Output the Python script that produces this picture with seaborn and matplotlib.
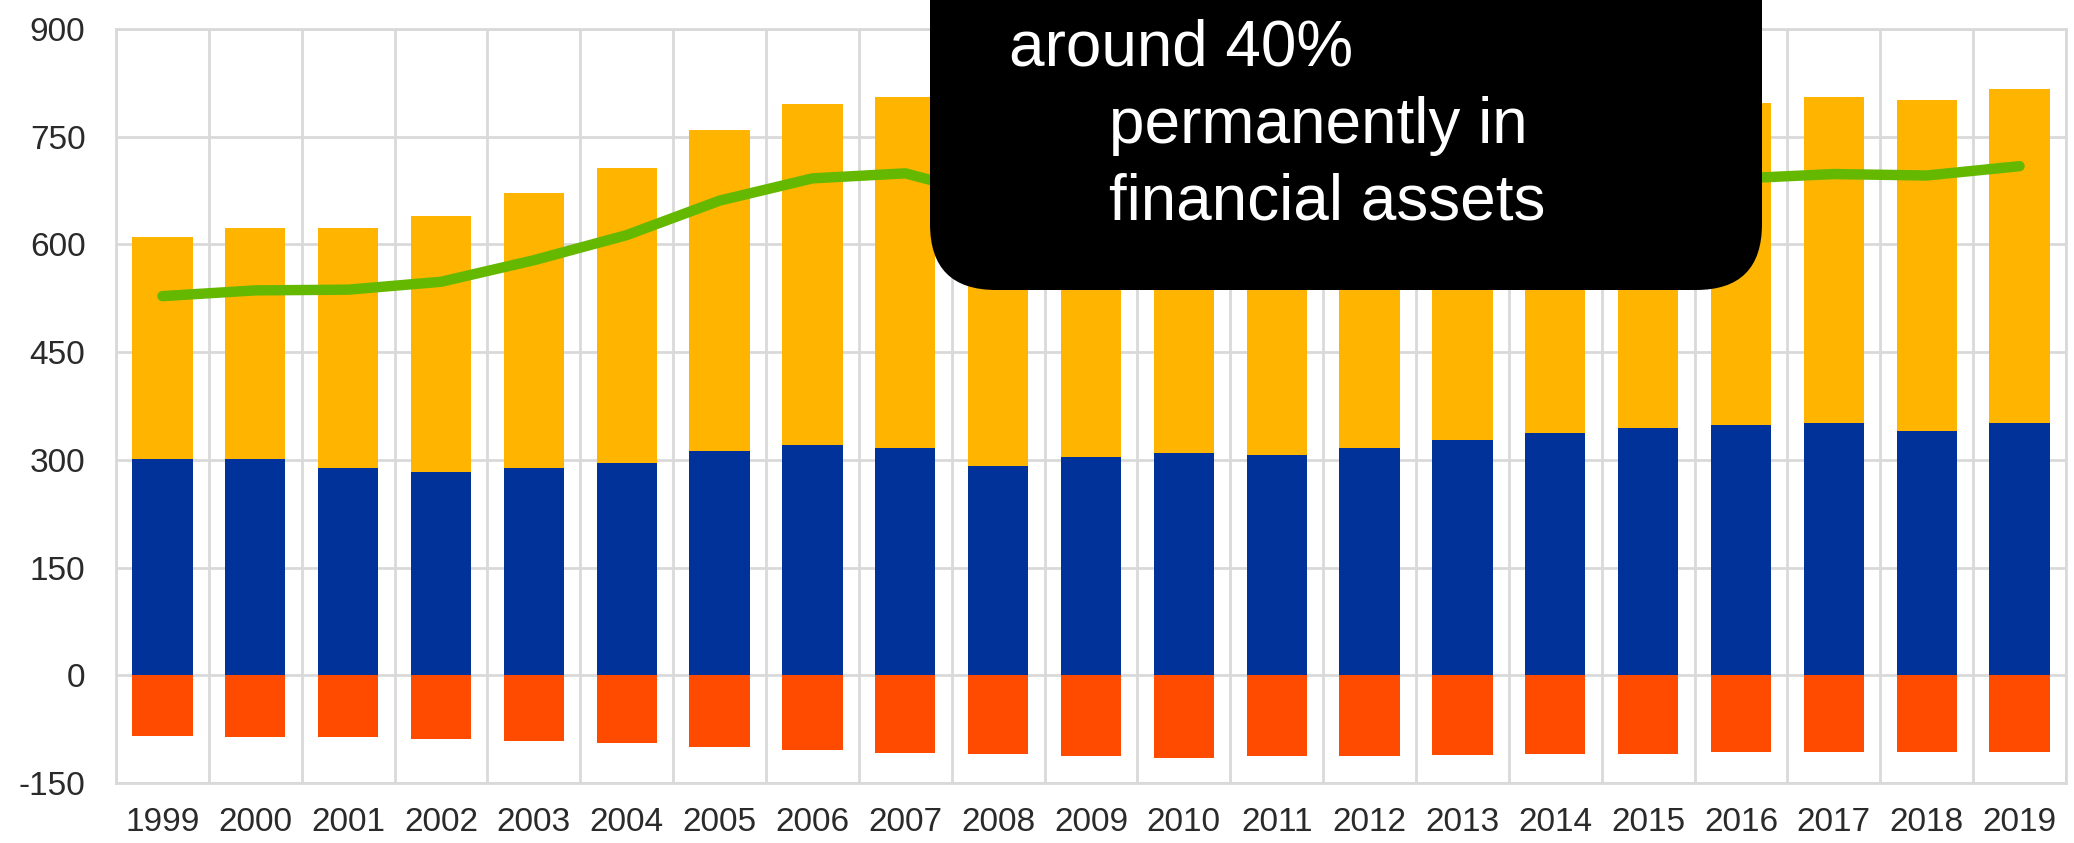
import numpy as np
import pandas as pd
import matplotlib
matplotlib.use("Agg")
import matplotlib.pyplot as plt
from matplotlib.patches import FancyBboxPatch
import seaborn as sns

# Annual series (EUR bn)
years = [str(y) for y in range(1999, 2020)]
blue_part = [301, 301, 289, 283, 288, 295, 313, 321, 316, 292, 304,
             310, 307, 316, 328, 338, 345, 349, 352, 340, 352]
yellow_part = [310, 322, 334, 356, 383, 411, 446, 474, 490, 498, 471,
               470, 468, 454, 447, 442, 440, 448, 454, 461, 464]
orange_part = [-84, -86, -86, -89, -92, -94, -100, -104, -108, -109, -112,
               -115, -112, -112, -111, -110, -110, -107, -107, -107, -107]
green_line = [528, 536, 537, 548, 578, 613, 661, 692, 699, 665, 660,
              668, 670, 672, 676, 680, 686, 692, 698, 696, 709]
y_ticks = [-150, 0, 150, 300, 450, 600, 750, 900]
box_lines = ["around 40%", "permanently in", "financial assets"]

BLUE = "#003299"
YELLOW = "#FFB400"
ORANGE = "#FF4B00"
GREEN = "#65B800"
GRID = "#d9d9d9"

df = pd.DataFrame({
    "year": years,
    "blue": blue_part,
    "yellow": yellow_part,
    "orange": orange_part,
    "line": green_line,
})
df["total"] = df["blue"] + df["yellow"]

sns.set_style("white")
plt.rcParams["font.family"] = ["Liberation Sans", "DejaVu Sans"]

W, H = 2074, 843
fig = plt.figure(figsize=(W / 100, H / 100), dpi=100)
ax = fig.add_axes([116 / W, 60 / H, 1950 / W, 754 / H])

bar_kw = dict(width=0.65, saturation=1, linewidth=0, ax=ax, zorder=2)
sns.barplot(data=df, x="year", y="total", color=YELLOW, **bar_kw)
sns.barplot(data=df, x="year", y="blue", color=BLUE, **bar_kw)
sns.barplot(data=df, x="year", y="orange", color=ORANGE, **bar_kw)
sns.lineplot(x=np.arange(len(years)), y=df["line"], color=GREEN,
             linewidth=7.5, ax=ax, zorder=3)

ax.set_xlim(-0.5, len(years) - 0.5)
ax.set_ylim(-150, 900)
ax.set_xticks(np.arange(len(years)))
ax.set_xticklabels(years)
ax.set_yticks(y_ticks)
ax.set_yticklabels([str(v) for v in y_ticks])
ax.set_xlabel("")
ax.set_ylabel("")

# Grid: horizontal at the value ticks, vertical at the category boundaries
ax.set_xticks(np.arange(-0.5, len(years), 1), minor=True)
ax.set_axisbelow(True)
ax.yaxis.grid(True, color=GRID, linewidth=2)
ax.xaxis.grid(True, which="minor", color=GRID, linewidth=2)
ax.xaxis.grid(False, which="major")
for s in ax.spines.values():
    s.set_visible(True)
    s.set_color(GRID)
    s.set_linewidth(2)

ax.tick_params(axis="both", which="both", length=0, labelsize=24,
               labelcolor="#2a2a2a")
ax.tick_params(axis="x", pad=17)
ax.tick_params(axis="y", pad=22)

# Callout box drawn in pixel space on top of the chart
ov = fig.add_axes([0, 0, 1, 1])
ov.set_xlim(0, W)
ov.set_ylim(H, 0)
ov.axis("off")
ov.add_patch(FancyBboxPatch((930, -120), 832, 410,
                            boxstyle="round,pad=0,rounding_size=66",
                            facecolor="black", edgecolor="none"))
for txt, x, y in zip(box_lines, [1009, 1109, 1109], [66, 143, 219]):
    ov.text(x, y, txt, color="white", fontsize=46, ha="left", va="baseline")

fig.savefig("out.png", dpi=100)
